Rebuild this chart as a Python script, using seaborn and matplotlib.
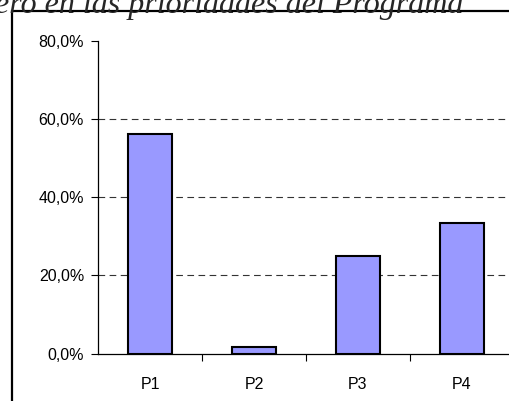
import matplotlib
matplotlib.use("Agg")
import matplotlib.pyplot as plt
import seaborn as sns
import pandas as pd
from matplotlib.patches import Rectangle
from matplotlib.ticker import FuncFormatter, FixedLocator

# data
categories = ["P1", "P2", "P3", "P4"]
values = [56.3, 1.6, 25.0, 33.3]
title_text = "ero en las prioridades del Programa"

df = pd.DataFrame({"prioridad": categories, "porcentaje": values})

sns.set_theme(style="white")
plt.rcParams["font.family"] = ["Liberation Sans", "DejaVu Sans"]

fig = plt.figure(figsize=(5.10, 4.01), dpi=100)
ax = fig.add_axes([98 / 510, 47.5 / 401, 416 / 510, 312.5 / 401])

sns.barplot(data=df, x="prioridad", y="porcentaje", color="#9999FF",
            saturation=1, width=0.42, edgecolor="black", linewidth=1.5, ax=ax)

ax.set_ylim(0, 80)
ax.set_xlim(-0.5, 3.5)
ax.set_yticks([0, 20, 40, 60, 80])
ax.yaxis.set_major_formatter(FuncFormatter(lambda v, p: f"{v:.1f}%".replace(".", ",")))
for y in [20, 40, 60]:
    ax.axhline(y, color="#333333", linestyle=(0, (6, 4)), linewidth=0.8, zorder=0)

ax.set_xlabel("")
ax.set_ylabel("")
ax.tick_params(axis="y", left=True, length=5, width=0.8, color="black",
               labelsize=11.5, labelcolor="black", pad=5, direction="out")
ax.tick_params(axis="x", bottom=False, labelsize=11.5, labelcolor="black", pad=11)
ax.xaxis.set_minor_locator(FixedLocator([0.5, 1.5, 2.5]))
ax.tick_params(axis="x", which="minor", bottom=True, length=5, width=0.8,
               color="black", direction="out")
for s in ["top", "right"]:
    ax.spines[s].set_visible(False)
for s in ["left", "bottom"]:
    ax.spines[s].set_color("black")
    ax.spines[s].set_linewidth(0.9)

# frame around the chart in the document
fig.add_artist(Rectangle((12.5 / 510, -0.1), 1.2, (401 - 10.5) / 401 + 0.1,
                         transform=fig.transFigure, fill=False,
                         edgecolor="black", linewidth=1.6))

# cut-off heading above the chart
fig.text(463 / 510, (401 - 13.5) / 401, title_text, ha="right", va="baseline",
         fontsize=23, style="italic", family=["Liberation Serif", "DejaVu Serif"])

fig.savefig("out.png", dpi=100)
